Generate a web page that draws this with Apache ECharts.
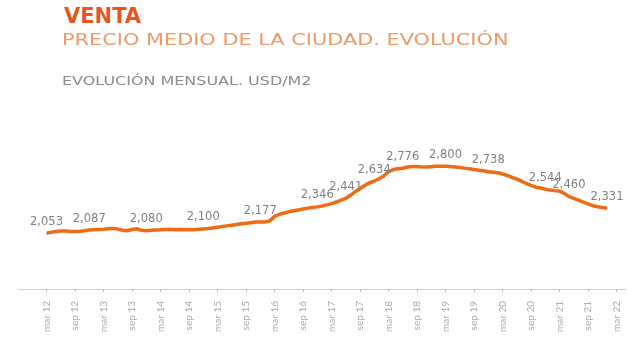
<!DOCTYPE html>
<html>
<head>
<meta charset="utf-8">
<script src="https://cdn.jsdelivr.net/npm/echarts@6/dist/echarts.min.js"></script>
<style>html,body{margin:0;padding:0;background:#fff}#c{width:640px;height:338px}</style>
</head>
<body>
<div id="c"></div>
<script>
// Month names (Spanish)
const monthNames = ["ene","feb","mar","abr","may","jun","jul","ago","sep","oct","nov","dic"];
// Axis categories span from sep 11 to may 22 (monthly); data starts mar 12
const axisStart = { year: 2011, month: 8 };   // sep 11
const axisCount = 129;
const dataStart = "mar 12";
// Tick labels shown on the axis
const tickLabels = ["mar 12","sep 12","mar 13","sep 13","mar 14","sep 14","mar 15","sep 15","mar 16","sep 16",
  "mar 17","sep 17","mar 18","sep 18","mar 19","sep 19","mar 20","sep 20","mar 21","sep 21","mar 22"];
// Monthly price, USD/m2, mar 12 .. ene 22
const prices = [
  2053,2062,2072,2078,2076,2072,2070,2074,2080,2087,2090,2093,
  2096,2102,2106,2098,2086,2080,2094,2102,2084,2080,2085,2088,
  2090,2094,2096,2092,2094,2092,2090,2092,2096,2100,2104,2110,
  2118,2126,2134,2142,2150,2158,2163,2170,2176,2177,2178,2190,
  2240,2262,2278,2290,2302,2312,2322,2332,2340,2346,2356,2368,
  2382,2400,2420,2441,2475,2515,2550,2585,2615,2634,2660,2690,
  2740,2762,2772,2776,2790,2796,2796,2792,2790,2794,2798,2800,
  2800,2796,2790,2784,2778,2770,2762,2754,2748,2738,2733,2727,
  2712,2696,2676,2655,2632,2608,2585,2565,2556,2544,2533,2527,
  2522,2497,2460,2440,2420,2398,2380,2360,2348,2338,2331
];
// Months whose value is printed on the chart
const labeledMonths = ["mar 12","dic 12","dic 13","dic 14","dic 15","dic 16","jun 17","dic 17",
  "jun 18","mar 19","dic 19","dic 20","may 21","ene 22"];

const categories = [];
for (let i = 0; i < axisCount; i++) {
  const t = axisStart.month + i;
  const y = axisStart.year + Math.floor(t / 12);
  categories.push(monthNames[t % 12] + " " + String(y % 100).padStart(2, "0"));
}
const offset = categories.indexOf(dataStart);
const seriesData = categories.map((c, i) => {
  const k = i - offset;
  return (k >= 0 && k < prices.length) ? prices[k] : null;
});
const tickSet = new Set(tickLabels);
const labelSet = new Set(labeledMonths);

const chart = echarts.init(document.getElementById('c'), null, { renderer: 'canvas' });
chart.setOption({
  animation: false,
  backgroundColor: '#fff',
  title: [
    { text: 'VENTA', left: 59, top: 2,
      textStyle: { color: '#e8561e', fontSize: 21, fontWeight: 'bold', fontFamily: 'DejaVu Sans' } }
  ],
  graphic: [
    { type: 'text', x: 62, y: 34, scaleX: 1.39, silent: true,
      style: { text: 'PRECIO MEDIO DE LA CIUDAD. EVOLUCIÓN', fill: '#eb9a68',
        font: 'normal 15px "DejaVu Sans"', textVerticalAlign: 'top' } },
    { type: 'text', x: 62, y: 75, scaleX: 1.277, silent: true,
      style: { text: 'EVOLUCIÓN MENSUAL. USD/M2', fill: '#8a8a8a',
        font: 'normal 12.5px "DejaVu Sans"', textVerticalAlign: 'top' } }
  ],
  grid: { left: 18, right: 14, top: 100.7, bottom: 49, containLabel: false },
  xAxis: {
    type: 'category', data: categories, boundaryGap: false,
    axisLine: { lineStyle: { color: '#cfcfcf', width: 1 } },
    axisTick: { show: true, length: 3, lineStyle: { color: '#bbb' },
      interval: (i, v) => tickSet.has(v) },
    axisLabel: { rotate: 90, margin: 12, color: '#aaa', fontSize: 10, fontFamily: 'Lato',
      interval: (i, v) => tickSet.has(v) },
    splitLine: { show: false }
  },
  yAxis: { type: 'value', min: 1430, max: 3530, show: false, splitLine: { show: false } },
  series: [{
    type: 'line', data: seriesData, connectNulls: false,
    symbol: 'circle', symbolSize: 1, showSymbol: true, showAllSymbol: true,
    itemStyle: { color: '#ef6b14' },
    lineStyle: { color: '#ef6b14', width: 3.5 },
    label: {
      show: true, position: 'top', distance: 5, color: '#808080', fontSize: 11.5, fontFamily: 'DejaVu Sans',
      formatter: p => labelSet.has(p.name) ? p.value.toLocaleString('en-US') : ''
    }
  }]
});
</script>
</body>
</html>
